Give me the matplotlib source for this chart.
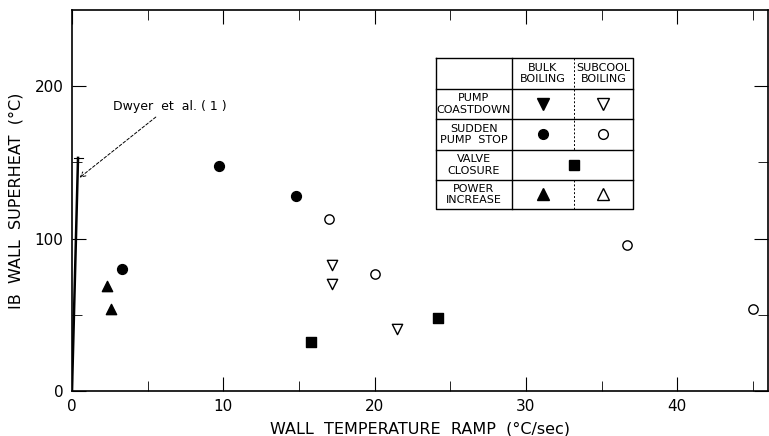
import numpy as np
import matplotlib.pyplot as plt

plt.rcParams['font.family'] = 'DejaVu Sans'

# subcooled pump coastdown (open down triangles)
coast_sub_x = [17.2, 17.2, 21.5]
coast_sub_y = [83, 70, 41]
# sudden pump stop
stop_bulk_x = [3.3, 9.7, 14.8]
stop_bulk_y = [80, 148, 128]
stop_sub_x = [17.0, 20.0, 36.7, 45.0]
stop_sub_y = [113, 77, 96, 54]
# valve closure
valve_x = [15.8, 24.2]
valve_y = [32, 48]
# power increase, bulk boiling
power_bulk_x = [2.3, 2.6]
power_bulk_y = [69, 54]
# Dwyer et al. correlation line
dwyer_x = [0.0, 0.4]
dwyer_y = [0.0, 153]

fig = plt.figure(figsize=(7.69, 4.36), dpi=100)
ax = fig.add_axes([0.0936, 0.103, 0.905, 0.874])

ax.plot(dwyer_x, dwyer_y, color='black', lw=1.8)
ax.plot([0.15, 0.7], [153, 153], color='black', lw=0.8)

ax.scatter(coast_sub_x, coast_sub_y, marker='v', s=55, facecolors='white', edgecolors='black', lw=1)
ax.scatter(stop_bulk_x, stop_bulk_y, marker='o', s=50, color='black')
ax.scatter(stop_sub_x, stop_sub_y, marker='o', s=45, facecolors='white', edgecolors='black', lw=1)
ax.scatter(valve_x, valve_y, marker='s', s=45, color='black')
ax.scatter(power_bulk_x, power_bulk_y, marker='^', s=55, color='black')

ax.annotate('Dwyer  et  al. ( 1 )', xy=(0.5, 140), xytext=(2.7, 187),
            fontsize=9, ha='left', va='center',
            arrowprops=dict(arrowstyle='->', color='black', lw=0.7, ls=(0, (3, 2)),
                            shrinkA=2, shrinkB=0))

ax.set_xlim(0, 46)
ax.set_ylim(0, 250)
ax.set_xticks([0, 10, 20, 30, 40])
ax.set_xticks([5, 15, 25, 35, 45], minor=True)
ax.set_yticks([0, 100, 200])
ax.set_yticks([50, 150], minor=True)
ax.tick_params(which='both', direction='in', top=True, right=True, labelsize=11, pad=6)
ax.tick_params(which='major', length=10)
ax.tick_params(which='minor', length=7)
ax.set_xlabel('WALL  TEMPERATURE  RAMP  (\u00b0C/sec)', fontsize=11.5, labelpad=5)
ax.set_ylabel('IB  WALL  SUPERHEAT  (\u00b0C)', fontsize=11.5, labelpad=8)
for s in ax.spines.values():
    s.set_linewidth(1.2)

# legend table drawn in axes coordinates
tx = [0.523, 0.632, 0.721, 0.806]
ty = [0.874, 0.793, 0.714, 0.633, 0.554, 0.478]
tr = ax.transAxes
lk = dict(color='black', transform=tr, lw=1.0)
ax.plot([tx[0], tx[3], tx[3], tx[0], tx[0]], [ty[0], ty[0], ty[5], ty[5], ty[0]], **lk)
for y in ty[1:5]:
    ax.plot([tx[0], tx[3]], [y, y], **lk)
ax.plot([tx[1], tx[1]], [ty[0], ty[5]], **lk)
ax.plot([tx[2], tx[2]], [ty[0], ty[3]], color='black', transform=tr, lw=0.7, ls=(0, (2, 2)))
ax.plot([tx[2], tx[2]], [ty[4], ty[5]], color='black', transform=tr, lw=0.7, ls=(0, (2, 2)))

row_names = ['PUMP\nCOASTDOWN', 'SUDDEN\nPUMP  STOP', 'VALVE\nCLOSURE', 'POWER\nINCREASE']
col_names = ['BULK\nBOILING', 'SUBCOOL\nBOILING']
for i, t in enumerate(col_names):
    ax.text((tx[i + 1] + tx[i + 2]) / 2, (ty[0] + ty[1]) / 2, t, transform=tr,
            ha='center', va='center', fontsize=8, linespacing=1.2)
for i, t in enumerate(row_names):
    ax.text((tx[0] + tx[1]) / 2, (ty[i + 1] + ty[i + 2]) / 2, t, transform=tr,
            ha='center', va='center', fontsize=8, linespacing=1.2)

cb = (tx[1] + tx[2]) / 2
cs = (tx[2] + tx[3]) / 2
rc = [(ty[i + 1] + ty[i + 2]) / 2 for i in range(4)]
ax.plot(cb, rc[0], marker='v', ms=8, color='black', transform=tr)
ax.plot(cs, rc[0], marker='v', ms=8, mfc='white', mec='black', transform=tr)
ax.plot(cb, rc[1], marker='o', ms=7, color='black', transform=tr)
ax.plot(cs, rc[1], marker='o', ms=7, mfc='white', mec='black', transform=tr)
ax.plot(tx[2], rc[2], marker='s', ms=6.5, color='black', transform=tr)
ax.plot(cb, rc[3], marker='^', ms=8, color='black', transform=tr)
ax.plot(cs, rc[3], marker='^', ms=8, mfc='white', mec='black', transform=tr)

fig.savefig('out.png', dpi=100)
